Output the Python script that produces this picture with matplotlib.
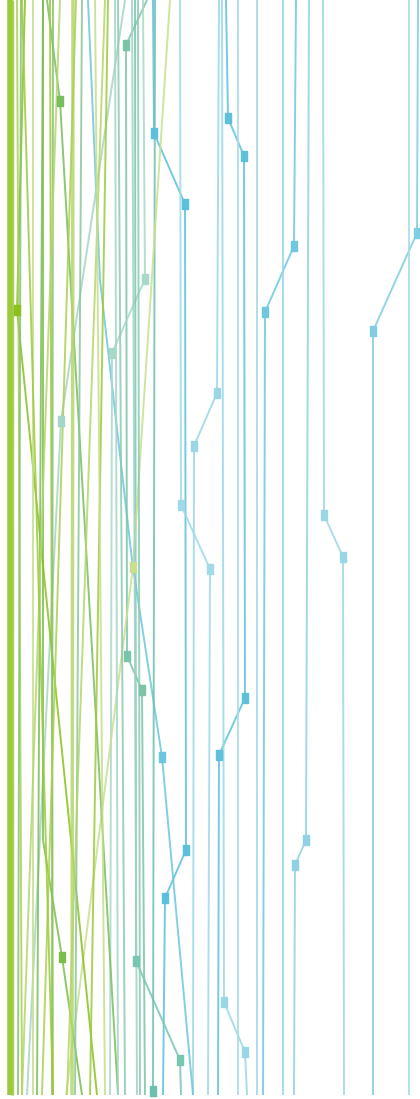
import matplotlib
matplotlib.use("Agg")
import matplotlib.pyplot as plt

# step (vertical) and position (horizontal) of every series
series_steps = {
    "A": [0, 233, 331, 1095],
    "B": [0, 515, 557, 1095],
    "C": [0, 840, 865, 1095],
    "D": [0, 246, 312, 1095],
    "E": [0, 1095],
    "F": [0, 393, 446, 1095],
    "G": [0, 118, 156, 698, 755, 1095],
    "H": [0, 1002, 1052, 1095],
    "I": [0, 133, 204, 850, 898, 1095],
    "J": [0, 280, 560, 757, 1095],
    "T": [0, 505, 569, 1095],
    "V1": [0, 1095],
    "V2": [0, 1095],
    "V3": [0, 1095],
    "K": [0, 45, 656, 690, 1095],
    "L": [0, 279, 353, 1095],
    "M": [0, 421, 1095],
    "R": [0, 961, 1060, 1095],
    "S": [0, 1091],
    "P": [0, 567, 1095],
    "Q": [0, 840, 957, 1095],
    "N": [0, 310, 1095],
    "O": [0, 101, 1095],
    "g1": [0, 1095],
    "g2": [0, 1095],
    "g3": [0, 1095],
    "g4": [0, 1095],
    "g5": [0, 1095],
    "g6": [0, 1095],
    "g7": [0, 1095],
    "g8": [0, 1095],
    "g9": [0, 1095],
    "g10": [0, 1095],
    "g11": [0, 1095],
    "g12": [0, 1095],
    "g13": [0, 1095],
    "g14": [0, 1095],
    "g15": [0, 1095],
    "g16": [0, 1095],
    "g17": [0, 1095],
    "g18": [0, 1095],
    "g19": [0, 1095],
    "g20": [0, 1095],
}

series_values = {
    "A": [418, 417, 373, 373],
    "B": [323, 324, 343, 344],
    "C": [309, 306, 295, 294],
    "D": [296, 294, 265, 263],
    "E": [283, 283],
    "F": [219, 217, 194, 193],
    "G": [226, 228, 244, 245, 219, 218],
    "H": [222, 224, 245, 247],
    "I": [153, 154, 185, 186, 165, 163],
    "J": [88, 100, 132, 162, 193],
    "T": [180, 181, 210, 208],
    "V1": [238, 238],
    "V2": [257, 257],
    "V3": [409, 409],
    "K": [147, 126, 127, 142, 145],
    "L": [143, 145, 112, 110],
    "M": [125, 61, 27],
    "R": [135, 136, 180, 181],
    "S": [155, 153],
    "P": [170, 133, 66],
    "Q": [43, 43, 62, 82],
    "N": [25, 17, 97],
    "O": [47, 60, 118],
    "g1": [10, 10],
    "g2": [12, 12],
    "g3": [17, 22],
    "g4": [21, 18],
    "g5": [33, 33],
    "g6": [43, 37],
    "g7": [50, 53],
    "g8": [53, 52],
    "g9": [73, 72],
    "g10": [76, 42],
    "g11": [82, 75],
    "g12": [105, 67],
    "g13": [108, 90],
    "g14": [115, 118],
    "g15": [118, 125],
    "g16": [132, 137],
    "g17": [138, 140],
    "g18": [60, 22],
    "g19": [22, 53],
    "g20": [95, 105],
}

series_marks = {
    "A": [1, 2], "B": [1, 2], "C": [1, 2], "D": [1, 2], "F": [1, 2],
    "G": [1, 2, 3, 4], "H": [1, 2], "I": [1, 2, 3, 4], "J": [3], "T": [1, 2],
    "K": [1, 2, 3], "L": [1, 2], "M": [1], "R": [1, 2], "S": [1],
    "P": [1], "Q": [2], "N": [1], "O": [1],
}

series_colors = {
    "A": "#7fcde0", "B": "#9ad7e6", "C": "#8fd2e3", "D": "#6fc8de",
    "E": "#98d6e5", "F": "#9ad7e6", "G": "#5ec1dc", "H": "#9ad7e6",
    "I": "#5bc0dc", "J": "#6cc6de", "T": "#a0d9e8", "V1": "#a6dce8",
    "V2": "#a0d9e8", "V3": "#a6dce8",
    "K": "#7cc4a8", "L": "#a8d8c8", "M": "#a5d5c5", "R": "#76c6b0",
    "S": "#6cc0b0", "P": "#c7e08e", "Q": "#7dbe4a", "N": "#8bc11c",
    "O": "#78bd5e",
    "g1": "#8bc11c", "g2": "#9ccb3b", "g3": "#a9d04f", "g4": "#86c270",
    "g5": "#c5df8a", "g6": "#7dbe5a", "g7": "#9ccb3b", "g8": "#86c270",
    "g9": "#b5d66a", "g10": "#a9d04f", "g11": "#8ac79a", "g12": "#b5d66a",
    "g13": "#9ccb3b", "g14": "#a5d5c5", "g15": "#8acbb0", "g16": "#9ed3c6",
    "g17": "#8acbb0", "g18": "#b5d66a", "g19": "#9ccb3b", "g20": "#c5df8a",
}

series_widths = {"g1": 4.0, "g2": 2.5, "g9": 2.5}

fig = plt.figure(figsize=(4.2, 10.99), dpi=100)
ax = fig.add_axes([0, 0, 1, 1])

rect = [(-0.6, -1), (0.6, -1), (0.6, 1), (-0.6, 1), (-0.6, -1)]

for name, ys in series_steps.items():
    xs = series_values[name]
    col = series_colors[name]
    lw = series_widths.get(name, 1.4)
    ax.plot(xs, ys, color=col, lw=lw, alpha=0.85, solid_capstyle="butt", zorder=2)
    marks = series_marks.get(name, [])
    if marks:
        ax.plot([xs[i] for i in marks], [ys[i] for i in marks], ls="none",
                marker=rect, ms=7.5, color=col, mec=col, zorder=3)

ax.set_xlim(0, 420)
ax.set_ylim(1099, 0)
ax.axis("off")

fig.savefig("out.png", dpi=100)
